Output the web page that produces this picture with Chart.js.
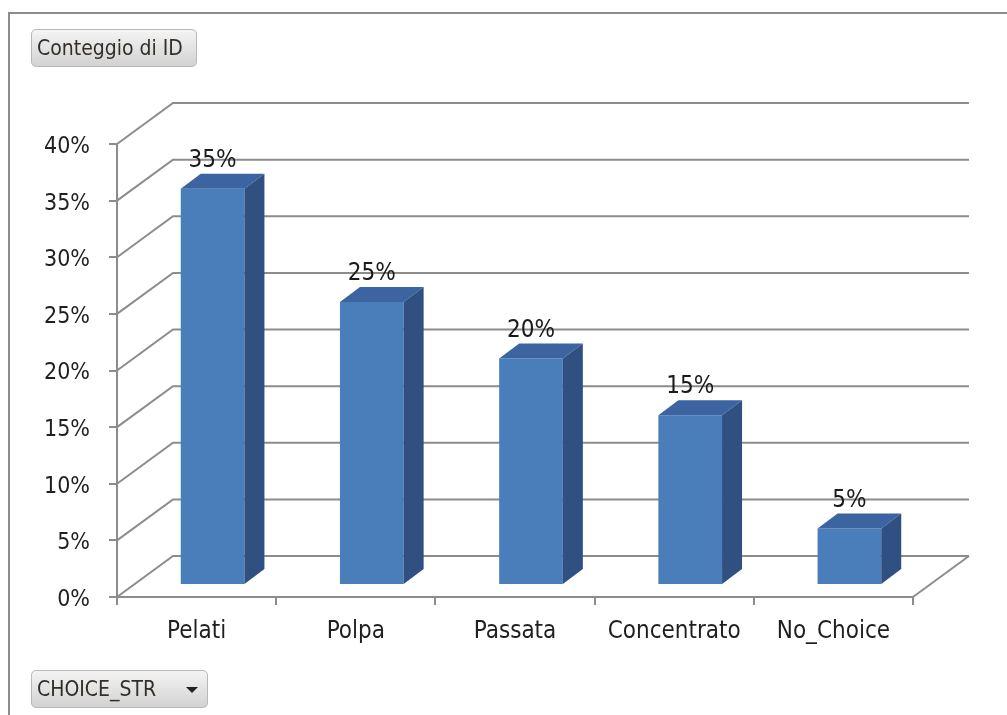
<!DOCTYPE html>
<html>
<head>
<meta charset="utf-8">
<script src="https://cdn.jsdelivr.net/npm/chart.js@4.4.0/dist/chart.umd.min.js"></script>
<style>
  body { margin: 0; background: #fff; }
  #contenitore { position: relative; width: 1007px; height: 715px; overflow: hidden; }
  #grafico { position: absolute; left: 0; top: 0; }
  #cornice { position: absolute; left: 8px; top: 12px; width: 1010px; height: 720px;
    border-left: 2px solid #8c8c8c; border-top: 2px solid #8c8c8c; }
  .pulsante { position: absolute; height: 38px; box-sizing: border-box; padding-left: 5px;
    border: 1px solid #b8b8b8; border-radius: 5px; background: linear-gradient(#f4f4f4, #d2d2d2);
    font-family: "DejaVu Sans Condensed", "DejaVu Sans", sans-serif; font-size: 21px; line-height: 36px; color: #332e28; }
  #campoValori { left: 31px; top: 29px; width: 166px; }
  #campoAsse { left: 31px; top: 670px; width: 177px; }
  #freccia { position: absolute; left: 154px; top: 16px; width: 0; height: 0;
    border-left: 6px solid transparent; border-right: 6px solid transparent; border-top: 6px solid #222; }
</style>
</head>
<body>
<div id="contenitore">
  <canvas id="grafico" width="1007" height="715"></canvas>
  <div id="cornice"></div>
  <div class="pulsante" id="campoValori">Conteggio di ID</div>
  <div class="pulsante" id="campoAsse">CHOICE_STR<span id="freccia"></span></div>
</div>
<script>
const categorie = ['Pelati', 'Polpa', 'Passata', 'Concentrato', 'No_Choice'];
const percentuali = [35, 25, 20, 15, 5];
const valoriAsse = [0, 5, 10, 15, 20, 25, 30, 35, 40];

// profondita' del pavimento e delle colonne (effetto 3D)
const PROF_X = 56, PROF_Y = 41;
const SPOSTA_X = 16, SPOSTA_Y = -12;
const COL_X = 20, COL_Y = 15;
const colGriglia = '#8c8c8c';
const famiglia = '"DejaVu Sans Condensed", "DejaVu Sans"';

const pareti3d = {
  id: 'pareti3d',
  beforeDatasetsDraw(chart) {
    const { ctx, chartArea: a, scales: { y } } = chart;
    ctx.save();
    ctx.strokeStyle = colGriglia;
    ctx.lineWidth = 2;
    y.ticks.forEach(t => {
      const py = y.getPixelForValue(t.value);
      ctx.beginPath();
      ctx.moveTo(a.left, py);
      ctx.lineTo(a.left + PROF_X, py - PROF_Y);
      ctx.lineTo(a.right + PROF_X, py - PROF_Y);
      ctx.stroke();
    });
    // lato destro del pavimento
    ctx.beginPath();
    ctx.moveTo(a.right, a.bottom);
    ctx.lineTo(a.right + PROF_X, a.bottom - PROF_Y);
    ctx.stroke();
    ctx.restore();
    // le facce frontali delle colonne stanno a meta' profondita'
    ctx.save();
    ctx.translate(SPOSTA_X, SPOSTA_Y);
  },
  afterDatasetsDraw(chart) {
    const ctx = chart.ctx;
    ctx.restore();
    const meta = chart.getDatasetMeta(0);
    meta.data.forEach((bar, i) => {
      const { x, y, base, width } = bar.getProps(['x', 'y', 'base', 'width'], true);
      const sx = x - width / 2 + SPOSTA_X, dx = x + width / 2 + SPOSTA_X;
      const alto = y + SPOSTA_Y, basso = base + SPOSTA_Y;
      // faccia superiore
      ctx.fillStyle = '#3b64a0';
      ctx.beginPath();
      ctx.moveTo(sx, alto);
      ctx.lineTo(sx + COL_X, alto - COL_Y);
      ctx.lineTo(dx + COL_X, alto - COL_Y);
      ctx.lineTo(dx, alto);
      ctx.closePath();
      ctx.fill();
      // faccia laterale
      ctx.fillStyle = '#2f5080';
      ctx.beginPath();
      ctx.moveTo(dx, alto);
      ctx.lineTo(dx + COL_X, alto - COL_Y);
      ctx.lineTo(dx + COL_X, basso - COL_Y);
      ctx.lineTo(dx, basso);
      ctx.closePath();
      ctx.fill();
      // etichetta del valore
      ctx.fillStyle = '#1a1a1a';
      ctx.font = '24px ' + famiglia;
      ctx.textAlign = 'center';
      ctx.textBaseline = 'middle';
      ctx.fillText(percentuali[i] + '%', x + SPOSTA_X, alto - 28);
    });
  }
};

new Chart(document.getElementById('grafico'), {
  type: 'bar',
  data: {
    labels: categorie,
    datasets: [{
      data: percentuali,
      backgroundColor: '#4a7ebb',
      borderWidth: 0,
      categoryPercentage: 1,
      barPercentage: 0.4,
      clip: false
    }]
  },
  options: {
    responsive: false,
    animation: false,
    layout: { padding: { left: 8, right: 94, top: 144, bottom: 58 } },
    plugins: { legend: { display: false }, tooltip: { enabled: false } },
    scales: {
      x: {
        offset: true,
        grid: { drawOnChartArea: false, color: colGriglia, lineWidth: 2, tickLength: 8, offset: true },
        border: { display: true, color: colGriglia, width: 2 },
        ticks: { font: { family: famiglia, size: 24 }, color: '#1f1f1f', padding: 12, maxRotation: 0 },
        afterFit(scale) { scale.height = 60; }
      },
      y: {
        min: 0,
        max: 40,
        afterBuildTicks(scale) { scale.ticks = valoriAsse.map(v => ({ value: v })); },
        grid: { drawOnChartArea: false, color: colGriglia, lineWidth: 2, tickLength: 8 },
        border: { display: true, color: colGriglia, width: 2 },
        ticks: { font: { family: famiglia, size: 23 }, color: '#1f1f1f', padding: 19, labelOffset: 3,
          callback: v => v + '%' },
        afterFit(scale) { scale.width = 109; }
      }
    }
  },
  plugins: [pareti3d]
});
</script>
</body>
</html>
